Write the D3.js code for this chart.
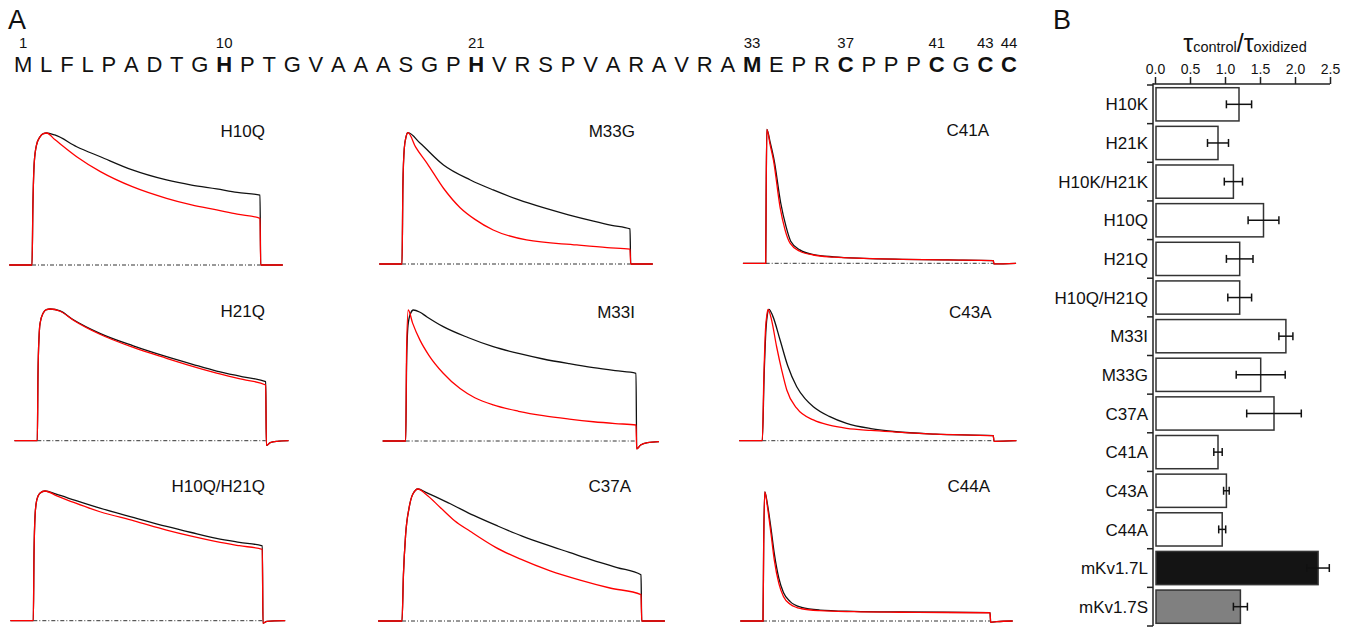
<!DOCTYPE html>
<html><head><meta charset="utf-8">
<script src="https://cdn.jsdelivr.net/npm/d3@7"></script>
<style>
body{margin:0;background:#fff}
svg{display:block}
text{font-family:"Liberation Sans",Arial,sans-serif;fill:#111}
</style>
</head><body>
<svg id="c" width="1351" height="629"></svg>
<script>
// ---------------- DATA ----------------
const sequence = "MLFLPADTGHPTGVAAASGPHVRSPVARAVRAMEPRCPPPCGCC".split("");
const boldPositions = [10, 21, 33, 37, 41, 43, 44];
const numberedPositions = [1, 10, 21, 33, 37, 41, 43, 44];

const barCategories = ["H10K","H21K","H10K/H21K","H10Q","H21Q","H10Q/H21Q","M33I","M33G","C37A","C41A","C43A","C44A","mKv1.7L","mKv1.7S"];
const barValues = [1.20, 0.90, 1.12, 1.55, 1.21, 1.21, 1.87, 1.51, 1.70, 0.90, 1.02, 0.96, 2.33, 1.22];
const barErrors = [0.18, 0.15, 0.13, 0.22, 0.19, 0.17, 0.10, 0.35, 0.39, 0.06, 0.04, 0.05, 0.16, 0.10];
const tickValues = [0, 0.5, 1.0, 1.5, 2.0, 2.5];
const tickLabels = ["0.0", "0.5", "1.0", "1.5", "2.0", "2.5"];

const panelNames = ["H10Q","M33G","C41A","H21Q","M33I","C43A","H10Q/H21Q","C37A","C44A"];

// normalized traces: [fraction of pulse duration, fraction of peak current]
const h10q_control = [[-0.1,0],[0,0],[0.004,0.45],[0.01,0.78],[0.02,0.91],[0.035,0.97],[0.05,0.995],[0.064,1.0],[0.1,0.985],[0.196,0.896],[0.30,0.82],[0.44,0.72],[0.59,0.644],[0.70,0.605],[0.81,0.576],[0.90,0.55],[1.0,0.53],[1.003,0],[1.1,0]];
const h10q_oxidized = [[-0.1,0],[0,0],[0.004,0.45],[0.01,0.78],[0.02,0.91],[0.035,0.97],[0.05,0.995],[0.064,1.0],[0.1,0.95],[0.196,0.82],[0.30,0.707],[0.44,0.593],[0.59,0.505],[0.70,0.455],[0.81,0.417],[0.90,0.385],[1.0,0.354],[1.003,0],[1.1,0]];
const m33g_control = [[-0.1,0],[0,0],[0.004,0.6],[0.01,0.88],[0.018,0.97],[0.026,1.0],[0.08,0.919],[0.182,0.754],[0.30,0.64],[0.40,0.564],[0.51,0.49],[0.62,0.429],[0.73,0.375],[0.84,0.327],[0.92,0.295],[1.0,0.267],[1.003,0],[1.1,0]];
const m33g_oxidized = [[-0.1,0],[0,0],[0.004,0.6],[0.01,0.88],[0.018,0.97],[0.026,1.0],[0.06,0.89],[0.11,0.767],[0.182,0.577],[0.255,0.429],[0.32,0.34],[0.40,0.259],[0.546,0.183],[0.767,0.145],[0.90,0.125],[1.0,0.114],[1.003,0],[1.1,0]];
const c41a_control = [[-0.1,0],[0,0],[0.002,0.5],[0.005,1.0],[0.02,0.9],[0.037,0.77],[0.066,0.45],[0.09,0.27],[0.11,0.165],[0.15,0.1],[0.21,0.065],[0.3,0.048],[0.43,0.037],[0.6,0.03],[0.8,0.025],[1.0,0.02],[1.003,-0.005],[1.1,0]];
const c41a_oxidized = [[-0.1,0],[0,0],[0.002,0.5],[0.005,1.0],[0.02,0.88],[0.034,0.77],[0.063,0.42],[0.085,0.25],[0.107,0.15],[0.15,0.09],[0.209,0.062],[0.3,0.046],[0.43,0.037],[0.6,0.03],[0.8,0.025],[1.0,0.02],[1.003,-0.005],[1.1,0]];
const h21q_control = [[-0.1,0],[0,0],[0.003,0.5],[0.008,0.8],[0.012,0.89],[0.026,0.97],[0.04,0.995],[0.056,1.0],[0.1,0.985],[0.158,0.918],[0.274,0.815],[0.42,0.72],[0.566,0.638],[0.68,0.58],[0.785,0.529],[0.9,0.485],[1.0,0.448],[1.003,-0.035],[1.02,-0.015],[1.05,-0.005],[1.1,0]];
const h21q_oxidized = [[-0.1,0],[0,0],[0.003,0.5],[0.008,0.8],[0.012,0.89],[0.026,0.97],[0.04,0.995],[0.056,1.0],[0.1,0.983],[0.158,0.915],[0.274,0.808],[0.42,0.708],[0.566,0.626],[0.68,0.565],[0.785,0.513],[0.9,0.465],[1.0,0.423],[1.003,-0.035],[1.02,-0.015],[1.05,-0.005],[1.1,0]];
const m33i_control = [[-0.1,0],[0,0],[0.004,0.6],[0.01,0.88],[0.02,0.97],[0.033,1.0],[0.06,0.985],[0.091,0.949],[0.163,0.873],[0.27,0.79],[0.38,0.72],[0.49,0.668],[0.597,0.626],[0.71,0.59],[0.815,0.56],[0.91,0.537],[1.0,0.517],[1.003,-0.06],[1.02,-0.03],[1.05,-0.012],[1.1,-0.005]];
const m33i_oxidized = [[-0.1,0],[0,0],[0.004,0.7],[0.011,1.0],[0.03,0.9],[0.062,0.77],[0.1,0.656],[0.163,0.517],[0.236,0.40],[0.30,0.33],[0.38,0.275],[0.49,0.227],[0.597,0.193],[0.71,0.167],[0.815,0.147],[0.91,0.133],[1.0,0.122],[1.003,-0.06],[1.02,-0.03],[1.05,-0.012],[1.1,-0.005]];
const c43a_control = [[-0.1,0],[0,0],[0.008,0.5],[0.016,0.85],[0.022,0.96],[0.029,1.0],[0.045,0.95],[0.077,0.766],[0.11,0.57],[0.149,0.411],[0.185,0.32],[0.221,0.259],[0.29,0.185],[0.365,0.132],[0.47,0.092],[0.58,0.068],[0.75,0.05],[1.0,0.038],[1.003,-0.005],[1.1,0]];
const c43a_oxidized = [[-0.1,0],[0,0],[0.007,0.5],[0.014,0.85],[0.02,0.96],[0.025,1.0],[0.04,0.92],[0.062,0.715],[0.085,0.53],[0.106,0.386],[0.149,0.247],[0.221,0.158],[0.29,0.118],[0.365,0.094],[0.47,0.078],[0.58,0.066],[0.75,0.05],[1.0,0.038],[1.003,-0.005],[1.1,0]];
const h10qh21q_control = [[-0.1,0],[0,0],[0.003,0.5],[0.008,0.82],[0.015,0.93],[0.03,0.985],[0.051,1.0],[0.1,0.975],[0.18,0.93],[0.291,0.868],[0.44,0.795],[0.582,0.727],[0.69,0.68],[0.80,0.635],[0.9,0.604],[1.0,0.576],[1.003,-0.02],[1.02,-0.005],[1.1,0]];
const h10qh21q_oxidized = [[-0.1,0],[0,0],[0.003,0.5],[0.008,0.82],[0.015,0.93],[0.03,0.985],[0.051,1.0],[0.1,0.965],[0.18,0.91],[0.291,0.84],[0.44,0.77],[0.582,0.699],[0.69,0.652],[0.80,0.609],[0.9,0.578],[1.0,0.55],[1.003,-0.02],[1.02,-0.005],[1.1,0]];
const c37a_control = [[-0.1,0],[0,0],[0.006,0.35],[0.015,0.65],[0.03,0.86],[0.045,0.96],[0.067,1.0],[0.1,0.975],[0.2,0.89],[0.3,0.80],[0.4,0.72],[0.5,0.645],[0.6,0.58],[0.7,0.52],[0.8,0.46],[0.9,0.405],[1.0,0.35],[1.003,0],[1.1,0]];
const c37a_oxidized = [[-0.1,0],[0,0],[0.006,0.35],[0.015,0.65],[0.03,0.86],[0.045,0.96],[0.067,1.0],[0.1,0.96],[0.16,0.86],[0.22,0.76],[0.285,0.68],[0.39,0.56],[0.494,0.47],[0.62,0.38],[0.745,0.31],[0.87,0.25],[1.0,0.2],[1.003,0],[1.1,0]];
const c44a_control = [[-0.1,0],[0,0],[0.003,0.6],[0.008,1.0],[0.02,0.9],[0.035,0.72],[0.05,0.52],[0.07,0.33],[0.09,0.22],[0.12,0.15],[0.17,0.105],[0.25,0.085],[0.4,0.075],[0.6,0.07],[0.8,0.068],[1.0,0.065],[1.003,-0.01],[1.03,-0.005],[1.1,0]];
const c44a_oxidized = [[-0.1,0],[0,0],[0.003,0.6],[0.008,1.0],[0.02,0.88],[0.035,0.68],[0.05,0.47],[0.07,0.29],[0.09,0.19],[0.12,0.13],[0.17,0.095],[0.25,0.08],[0.4,0.072],[0.6,0.068],[0.8,0.066],[1.0,0.064],[1.003,-0.01],[1.03,-0.005],[1.1,0]];

const controlTraces = [h10q_control, m33g_control, c41a_control, h21q_control, m33i_control, c43a_control, h10qh21q_control, c37a_control, c44a_control];
const oxidizedTraces = [h10q_oxidized, m33g_oxidized, c41a_oxidized, h21q_oxidized, m33i_oxidized, c43a_oxidized, h10qh21q_oxidized, c37a_oxidized, c44a_oxidized];

// ---------------- LAYOUT ----------------
const panelLayout = [
  {x0:32,   x1:260,   y0:265,   y1:133,   lx:265,   ly:136.5},
  {x0:402,  x1:630,   y0:264,   y1:132.7, lx:635,   ly:136.5},
  {x0:765.7,x1:993.3, y0:263.3, y1:129.3, lx:989,   ly:135.5},
  {x0:37.3, x1:265.7, y0:440.7, y1:309,   lx:265,   ly:317},
  {x0:405.7,x1:636,   y0:441,   y1:310,   lx:635,   ly:318},
  {x0:762.3,x1:993.3, y0:440.7, y1:309.3, lx:991.5, ly:317.5},
  {x0:33.3, x1:262.3, y0:620.7, y1:491,   lx:265,   ly:492},
  {x0:402,  x1:641,   y0:621,   y1:489,   lx:631,   ly:492},
  {x0:763,  x1:990,   y0:621,   y1:492,   lx:990,   ly:492}
];

const svg = d3.select("#c");

// Panel letters
svg.append("text").attr("x", 8).attr("y", 29).attr("font-size", 27).text("A");
svg.append("text").attr("x", 1053).attr("y", 29).attr("font-size", 27).text("B");

// Sequence
const seqG = svg.append("g");
const letters = seqG.selectAll("text").data(sequence).join("text")
  .attr("y", 72).attr("font-size", 22)
  .attr("font-weight", (d, i) => boldPositions.includes(i + 1) ? "bold" : "normal")
  .text(d => d);
const widths = letters.nodes().map(n => n.getComputedTextLength());
const seqX0 = 14, seqX1 = 1017;
const gap = (seqX1 - seqX0 - d3.sum(widths)) / (sequence.length - 1);
const centers = [];
let cx = seqX0;
letters.each(function(d, i) {
  d3.select(this).attr("x", cx);
  centers.push(cx + widths[i] / 2);
  cx += widths[i] + gap;
});
svg.append("g").selectAll("text").data(numberedPositions).join("text")
  .attr("x", p => centers[p - 1]).attr("y", 48).attr("font-size", 15)
  .attr("text-anchor", "middle").text(p => p);

// Traces
panelNames.forEach((name, i) => {
  const L = panelLayout[i];
  const xs = d3.scaleLinear([0, 1], [L.x0, L.x1]);
  const ys = d3.scaleLinear([0, 1], [L.y0, L.y1]);
  const g = svg.append("g");
  g.append("line").attr("x1", xs(0)).attr("x2", xs(1)).attr("y1", ys(0)).attr("y2", ys(0))
    .attr("stroke", "#333").attr("stroke-width", 1).attr("stroke-dasharray", "4,2,1,2");
  const line = d3.line().x(d => xs(d[0])).y(d => ys(d[1])).curve(d3.curveMonotoneX);
  g.append("path").attr("d", line(controlTraces[i])).attr("fill", "none")
    .attr("stroke", "#111").attr("stroke-width", 1.3);
  g.append("path").attr("d", line(oxidizedTraces[i])).attr("fill", "none")
    .attr("stroke", "#ff0000").attr("stroke-width", 1.3);
  g.append("text").attr("x", L.lx).attr("y", L.ly).attr("text-anchor", "end")
    .attr("font-size", 17).text(name);
});

// ---------------- PANEL B ----------------
const xB = d3.scaleLinear([0, 2.5], [1155, 1330]);
const yB = d3.scaleBand(barCategories, [85, 626]).paddingInner(0.14).paddingOuter(0.07);
const axisX = 1153, axisY = 84;

const tt = svg.append("text").attr("x", 1245).attr("y", 52).attr("text-anchor", "middle");
tt.append("tspan").attr("font-size", 25).text("τ");
tt.append("tspan").attr("font-size", 14.5).text("control");
tt.append("tspan").attr("font-size", 25).text("/");
tt.append("tspan").attr("font-size", 25).text("τ");
tt.append("tspan").attr("font-size", 14.5).text("oxidized");

const ax = svg.append("g").attr("transform", `translate(0,${axisY})`)
  .call(d3.axisTop(xB).tickValues(tickValues).tickFormat((d, i) => tickLabels[i]).tickSize(7).tickSizeOuter(0).tickPadding(3));
ax.select(".domain").remove();
ax.selectAll("line").attr("stroke", "#222").attr("stroke-width", 1.5);
ax.selectAll("text").attr("font-size", 14).attr("font-family", '"Liberation Sans",Arial,sans-serif').attr("fill", "#111");
svg.append("line").attr("x1", axisX).attr("x2", xB(2.5)).attr("y1", axisY).attr("y2", axisY)
  .attr("stroke", "#222").attr("stroke-width", 1.5);
svg.append("line").attr("x1", axisX).attr("x2", axisX).attr("y1", axisY - 0.75).attr("y2", 626)
  .attr("stroke", "#222").attr("stroke-width", 1.5);

const bounds = d3.range(barCategories.length + 1).map(i => yB.range()[0] + i * yB.step());
svg.append("g").selectAll("line").data(bounds).join("line")
  .attr("x1", axisX - 6).attr("x2", axisX).attr("y1", d => d).attr("y2", d => d)
  .attr("stroke", "#222").attr("stroke-width", 1.5);

svg.append("g").selectAll("text").data(barCategories).join("text")
  .attr("x", 1148).attr("y", d => yB(d) + yB.bandwidth() / 2).attr("dy", "0.36em")
  .attr("text-anchor", "end").attr("font-size", 17).text(d => d);

const fillFor = c => c === "mKv1.7L" ? "#141414" : c === "mKv1.7S" ? "#808080" : "#fff";
svg.append("g").selectAll("rect").data(barCategories).join("rect")
  .attr("x", xB(0) + 1).attr("y", d => yB(d))
  .attr("width", (d, i) => xB(barValues[i]) - xB(0) - 1).attr("height", yB.bandwidth())
  .attr("fill", d => fillFor(d)).attr("stroke", "#333").attr("stroke-width", 1.5);

const eb = svg.append("g").attr("stroke", "#111").attr("stroke-width", 1.5);
barCategories.forEach((c, i) => {
  const yc = yB(c) + yB.bandwidth() / 2;
  const a = xB(barValues[i] - barErrors[i]), b = xB(barValues[i] + barErrors[i]);
  eb.append("line").attr("x1", a).attr("x2", b).attr("y1", yc).attr("y2", yc);
  eb.append("line").attr("x1", a).attr("x2", a).attr("y1", yc - 4).attr("y2", yc + 4);
  eb.append("line").attr("x1", b).attr("x2", b).attr("y1", yc - 4).attr("y2", yc + 4);
});
</script>
</body></html>
